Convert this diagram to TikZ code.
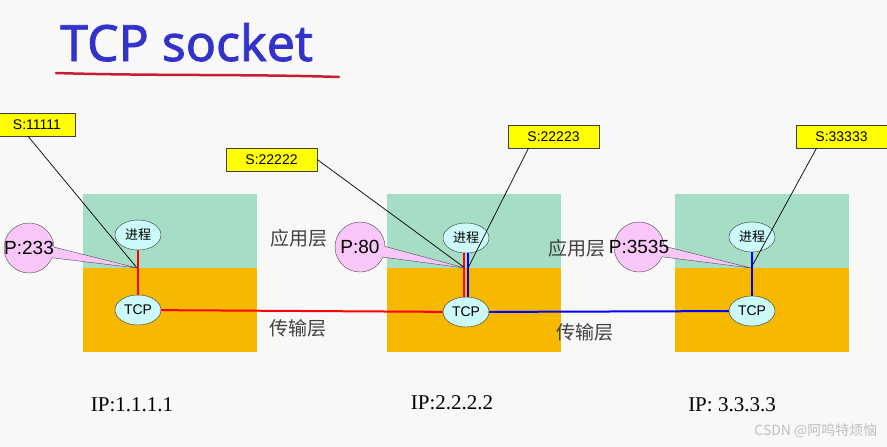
\documentclass[tikz,border=0pt]{standalone}
\usepackage{fontspec}
\setmainfont{Liberation Sans}
\newfontfamily\cjkfont{Noto Sans CJK SC}
\newfontfamily\titlefont[BoldFont={Noto Sans}, BoldFeatures={FakeBold=1.5}]{Noto Sans}
\newfontfamily\ipfont{Liberation Serif}
\usetikzlibrary{shapes.geometric,shapes.callouts,positioning,calc}
\definecolor{bgColor}{RGB}{248,248,248}
\definecolor{appColor}{RGB}{166,221,197}
\definecolor{transColor}{RGB}{247,184,0}
\definecolor{procColor}{RGB}{204,250,250}
\definecolor{portColor}{RGB}{248,198,248}
\definecolor{sockColor}{RGB}{255,255,0}
\definecolor{titleColor}{RGB}{51,51,204}
\definecolor{underColor}{RGB}{200,30,50}
\newcommand{\portname}[1]{\makebox[0pt]{#1}}
\tikzset{applayer/.style={fill=appColor, minimum width=174pt, minimum height=74pt, inner sep=0pt}}
\tikzset{translayer/.style={applayer, fill=transColor, minimum height=84pt}}
\tikzset{process/.style={ellipse, draw=black!80, fill=procColor, minimum width=46pt, minimum height=30pt, inner sep=0pt, font=\cjkfont\fontsize{13}{13}\selectfont}}
\tikzset{tcpbox/.style={process, font=\fontsize{14}{14}\selectfont}}
\tikzset{sockbox/.style={draw=black!75, fill=sockColor, minimum width=91pt, minimum height=23pt, inner sep=0pt, font=\fontsize{14}{14}\selectfont}}
\tikzset{portbox/.style={ellipse callout, draw=black!70, fill=portColor, minimum width=50pt, minimum height=50pt, inner sep=0pt, callout pointer arc=25, font=\fontsize{19}{19}\selectfont}}
\tikzset{layerlabel/.style={font=\cjkfont\fontsize{19}{19}\selectfont, text=black!75}}
\tikzset{iplabel/.style={font=\ipfont\fontsize{21}{21}\selectfont}}
\tikzset{redline/.style={draw=red, line width=2pt}}
\tikzset{blueline/.style={draw=blue, line width=2pt}}
\tikzset{leader/.style={draw=black, line width=0.7pt}}

\begin{document}
\begin{tikzpicture}[x=1pt, y=-1pt, node distance=0pt]
\fill[bgColor] (0,0) rectangle (887,447);
\useasboundingbox (0,0) rectangle (887,447);

% Title
\node (Title) [anchor=base west, inner sep=0pt, text=titleColor, font=\titlefont\bfseries\fontsize{50}{50}\selectfont] at (60,61) {TCP socket};
\draw[underColor, line width=2.5pt, line cap=round] (56,73) .. controls (150,76) and (250,74) .. (339,77);

% Hosts
\node (App1) [applayer] at (170,231) {};
\node (Trans1) [translayer, below=of App1] {};
\node (App2) [applayer] at (474,231) {};
\node (Trans2) [translayer, below=of App2] {};
\node (App3) [applayer] at (762,231) {};
\node (Trans3) [translayer, below=of App3] {};

\node (Proc1) [process] at (138,235) {进程};
\node (Tcp1) [tcpbox] at (138,310) {TCP};
\node (Proc2) [process] at (466,238) {进程};
\node (Tcp2) [tcpbox] at (466,312) {TCP};
\node (Proc3) [process] at (752,237) {进程};
\node (Tcp3) [tcpbox] at (752,311) {TCP};

\coordinate (Joint1) at (137,268);
\coordinate (Joint2) at (465,268);
\coordinate (Joint3) at (751,268);

% Layer names
\node (AppLabel1) [layerlabel] at (299,238) {应用层};
\node (TransLabel1) [layerlabel] at (298,328) {传输层};
\node (AppLabel2) [layerlabel] at (577,248) {应用层};
\node (TransLabel2) [layerlabel] at (585,332) {传输层};

% Connectors
\draw[redline] (Proc1) -- (Tcp1);
\draw[redline] ([xshift=-2pt]Proc2.south) -- ([xshift=-2pt]Tcp2.north);
\draw[blueline] ([xshift=2pt]Proc2.south) -- ([xshift=2pt]Tcp2.north);
\draw[blueline] (Proc3) -- (Tcp3);
\draw[redline] (Tcp1) -- (Tcp2);
\draw[blueline] (Tcp2) -- (Tcp3);

% Sockets and ports
\node (Sock1) [sockbox, minimum width=76pt] at (37,124.5) {S:11111};
\node (Sock2) [sockbox] at (271.5,159.5) {S:22222};
\node (Sock3) [sockbox] at (553.5,136.5) {S:22223};
\node (Sock4) [sockbox] at (841.5,136.5) {S:33333};

\draw[leader] ([xshift=-9pt]Sock1.south) -- (Joint1);
\draw[leader] (Sock2.east) -- (Joint2);
\draw[leader] ([xshift=-25pt]Sock3.south) -- ([xshift=3pt]Joint2);
\draw[leader] ([xshift=-25pt]Sock4.south) -- (Joint3);

\node (Port1) [portbox, callout absolute pointer={(Joint1)}] at (29,248) {\portname{P:233}};
\node (Port2) [portbox, callout absolute pointer={(Joint2)}] at (360,247) {\portname{P:80}};
\node (Port3) [portbox, callout absolute pointer={(Joint3)}] at (639,247) {\portname{P:3535}};

% Addresses
\node (Ip1) [iplabel] at (132,405) {IP:1.1.1.1};
\node (Ip2) [iplabel] at (452,403) {IP:2.2.2.2};
\node (Ip3) [iplabel] at (732,405) {IP: 3.3.3.3};

\node (Mark) [anchor=east, text=black!25, font=\cjkfont\fontsize{14}{14}\selectfont] at (881,431) {CSDN @阿呜特烦恼};
\end{tikzpicture}
\end{document}
